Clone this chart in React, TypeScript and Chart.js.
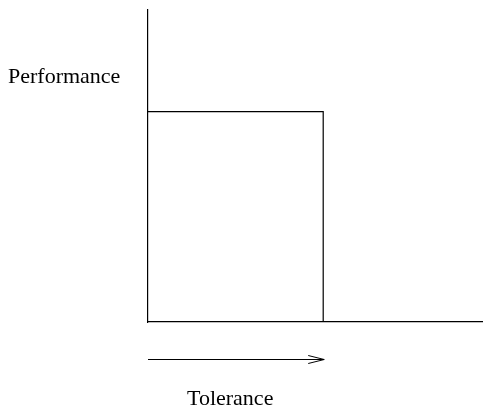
import React, { useEffect, useRef } from "react";
import { Chart, registerables } from "chart.js";

Chart.register(...registerables);

const tolerance: number[] = [0, 5.23, 5.23, 10];
const performance: number[] = [6.74, 6.74, 0, 0];
const yLabel = "Performance";
const xLabel = "Tolerance";
const arrowEnd = 5.23;

export default function App() {
  const ref = useRef<HTMLCanvasElement | null>(null);
  useEffect(() => {
    if (!ref.current) return;
    const annot = {
      id: "annot",
      afterDraw(chart: any) {
        const ctx = chart.ctx;
        const xs = chart.scales.x;
        const area = chart.chartArea;
        ctx.save();
        ctx.strokeStyle = "#000";
        ctx.lineWidth = 1;
        const x0 = xs.getPixelForValue(0);
        const x1 = xs.getPixelForValue(arrowEnd) + 1;
        const ay = area.bottom + 37.5;
        ctx.beginPath();
        ctx.moveTo(x0, ay);
        ctx.lineTo(x1, ay);
        ctx.moveTo(x1 - 16, ay - 4);
        ctx.lineTo(x1, ay);
        ctx.lineTo(x1 - 16, ay + 4);
        ctx.stroke();
        ctx.fillStyle = "#000";
        ctx.font = "22px 'Liberation Serif'";
        ctx.textAlign = "left";
        ctx.textBaseline = "alphabetic";
        ctx.fillText(yLabel, 8, 83);
        ctx.fillText(xLabel, 187, 405);
        ctx.restore();
      },
    };
    const chart = new Chart(ref.current, {
      type: "line",
      data: {
        datasets: [
          {
            data: tolerance.map((x, i) => ({ x, y: performance[i] })),
            borderColor: "#000",
            borderWidth: 1.2,
            pointRadius: 0,
            fill: false,
            tension: 0,
          },
        ],
      },
      options: {
        animation: false,
        responsive: false,
        maintainAspectRatio: false,
        layout: { padding: { left: 148, right: 0, top: 10, bottom: 85 } },
        plugins: { legend: { display: false }, tooltip: { enabled: false } },
        scales: {
          x: {
            type: "linear",
            min: 0,
            max: 10,
            ticks: { display: false },
            grid: { display: false, drawTicks: false },
            border: { display: true, color: "#000", width: 1.2 },
          },
          y: {
            type: "linear",
            min: 0,
            max: 10,
            ticks: { display: false },
            grid: { display: false, drawTicks: false },
            border: { display: true, color: "#000", width: 1.2 },
          },
        },
      },
      plugins: [annot],
    });
    return () => chart.destroy();
  }, []);
  return (
    <div style={{ position: "fixed", left: 0, top: 0, width: 483, height: 407, background: "#fff" }}>
      <canvas ref={ref} width={483} height={407} style={{ width: 483, height: 407 }} />
    </div>
  );
}
